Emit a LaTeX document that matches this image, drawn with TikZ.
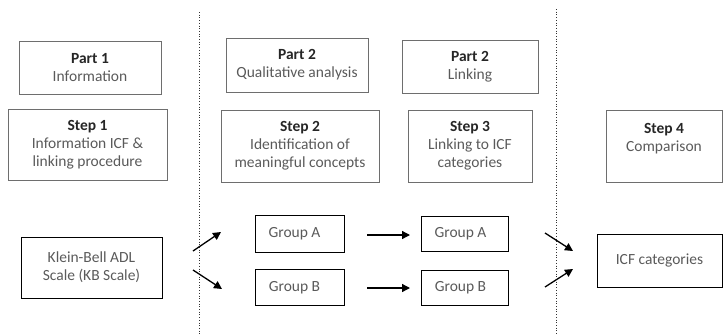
\documentclass[tikz,border=0pt]{standalone}
\usepackage{fontspec}
\setmainfont{Carlito}
\usetikzlibrary{arrows.meta}
\definecolor{txtgray}{HTML}{5A5A5A}
\definecolor{boxgray}{HTML}{6E6E6E}
\tikzset{
	box/.style={draw=boxgray, line width=0.7pt, align=center, inner sep=0pt,
		text=txtgray, font=\fontsize{15.5}{18}\selectfont},
	arr/.style={line width=1.3pt, -{Triangle[length=8pt,width=8pt]}},
}
\newcommand{\hd}[1]{{\bfseries\color{black!85}#1}}

\begin{document}
\begin{tikzpicture}[x=1pt,y=-1pt]
	\useasboundingbox (0,0) rectangle (723,335);
	\def \rowA{ 234 };
	\def \rowB{ 287.5 };
	% column separators
	\draw[dotted, line width=0.7pt, black!80] (199,12) -- (199,335);
	\draw[dotted, line width=0.7pt, black!80] (556,9) -- (556,335);
	% parts
	\node[box, minimum width=142, minimum height=53] (part1) at (90,67.5) {\hd{Part 1}\\Information};
	\node[box, minimum width=142, minimum height=54] (part2) at (297,65) {\hd{Part 2}\\Qualitative analysis};
	\node[box, minimum width=136, minimum height=53] (part3) at (470,66.5) {\hd{Part 2}\\Linking};
	% steps
	\node[box, minimum width=159, minimum height=71] (step1) at (87.5,144.5) {\hd{Step 1}\\Information ICF \&\\linking procedure};
	\node[box, minimum width=158, minimum height=72] (step2) at (300,146) {\hd{Step 2}\\Identification of\\meaningful concepts};
	\node[box, minimum width=124, minimum height=72] (step3) at (470,146) {\hd{Step 3}\\Linking to ICF\\categories};
	\node[box, minimum width=116, minimum height=72] (step4) at (664,146) {\hd{Step 4}\\Comparison\\~};
	% data
	\node[box, draw=black, minimum width=141, minimum height=61] (kb) at (91.5,267.5) {Klein-Bell ADL\\Scale (KB Scale)};
	\node[box, draw=black, minimum width=89, minimum height=37] (grpA) at (299.5,\rowA) {Group A\hspace{10pt}};
	\node[box, draw=black, minimum width=89, minimum height=36] (grpB) at (299.5,\rowB) {Group B\hspace{10pt}};
	\node[box, draw=black, minimum width=87, minimum height=35] (lnkA) at (464.5,\rowA) {Group A\hspace{8pt}};
	\node[box, draw=black, minimum width=87, minimum height=35] (lnkB) at (464.5,\rowB) {Group B\hspace{8pt}};
	\node[box, draw=black, minimum width=125, minimum height=53] (icf) at (659.5,260.5) {ICF categories};
	% arrow ends
	\coordinate (kbA) at (193,251);
	\coordinate (kbB) at (193,270);
	\coordinate (inA) at (221,232);
	\coordinate (inB) at (222,289);
	\coordinate (midA) at (367,235);
	\coordinate (midB) at (367,288);
	\coordinate (toA) at (410,235);
	\coordinate (toB) at (410,288);
	\coordinate (outA) at (545,233);
	\coordinate (outB) at (545,287);
	\coordinate (icfA) at (573,251);
	\coordinate (icfB) at (573,269);
	\draw[arr] (kbA) -- (inA);
	\draw[arr] (kbB) -- (inB);
	\draw[arr] (midA) -- (toA);
	\draw[arr] (midB) -- (toB);
	\draw[arr] (outA) -- (icfA);
	\draw[arr] (outB) -- (icfB);
\end{tikzpicture}
\end{document}
